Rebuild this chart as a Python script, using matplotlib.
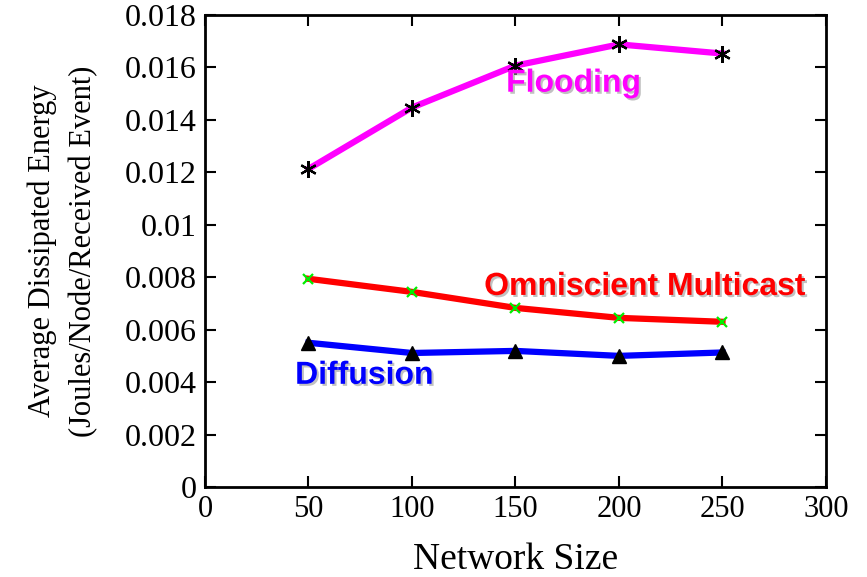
import matplotlib
matplotlib.use('Agg')
import matplotlib.pyplot as plt
import matplotlib.patheffects as pe

# data
network_size = [50, 100, 150, 200, 250]
flooding = [0.01213, 0.01447, 0.01607, 0.01688, 0.01653]
omniscient = [0.00794, 0.00744, 0.00683, 0.00645, 0.00630]
diffusion = [0.00550, 0.00511, 0.00519, 0.00500, 0.00513]

x_ticks = [0, 50, 100, 150, 200, 250, 300]
y_ticks = [0, 0.002, 0.004, 0.006, 0.008, 0.01, 0.012, 0.014, 0.016, 0.018]
y_tick_labels = ['0', '0.002', '0.004', '0.006', '0.008', '0.01', '0.012', '0.014', '0.016', '0.018']

plt.rcParams['font.family'] = 'Liberation Serif'

fig = plt.figure(figsize=(8.67, 5.77), dpi=100)
ax = fig.add_axes([0.2364, 0.156, 0.7163, 0.818])

ax.plot(network_size, flooding, color='#ff00ff', lw=4.5, zorder=2)
ax.plot(network_size, flooding, ls='none', marker=(6, 2, 0), ms=12, mec='black', mew=1.6, zorder=3)
ax.plot(network_size, omniscient, color='#ff0000', lw=4.5, zorder=2)
ax.plot(network_size, omniscient, ls='none', marker='x', ms=7, mec='#00ee00', mew=1.6, zorder=3)
ax.plot(network_size, diffusion, color='#0000ff', lw=4.5, zorder=2)
ax.plot(network_size, diffusion, ls='none', marker='^', ms=10, color='black', zorder=3)

shadow = [pe.SimplePatchShadow(offset=(1.5, -1.5), shadow_rgbFace='#999999', alpha=0.6), pe.Normal()]
ax.text(178, 0.01538, 'Flooding', color='#ff00ff', fontsize=23, fontweight='bold',
        family='Liberation Sans', ha='center', va='center', path_effects=shadow)
ax.text(212.5, 0.00763, 'Omniscient Multicast', color='#ff0000', fontsize=23, fontweight='bold',
        family='Liberation Sans', ha='center', va='center', path_effects=shadow)
ax.text(77, 0.00424, 'Diffusion', color='#0000ff', fontsize=23, fontweight='bold',
        family='Liberation Sans', ha='center', va='center', path_effects=shadow)

ax.set_xlim(0, 300)
ax.set_ylim(0, 0.018)
ax.set_xticks(x_ticks)
ax.set_yticks(y_ticks)
ax.set_yticklabels(y_tick_labels)
ax.tick_params(direction='in', length=8, width=1.5, labelsize=22, top=True, right=True, pad=6)
ax.tick_params(axis='y', labelsize=23)
for s in ax.spines.values():
    s.set_linewidth(2)

ax.set_xlabel('Network Size', fontsize=27)
ax.xaxis.set_label_coords(0.5, -0.118)
ax.set_ylabel('Average Dissipated Energy\n(Joules/Node/Received Event)', fontsize=22, linespacing=1.55)
ax.yaxis.set_label_coords(-0.172, 0.5)

fig.savefig('out.png', dpi=100)
